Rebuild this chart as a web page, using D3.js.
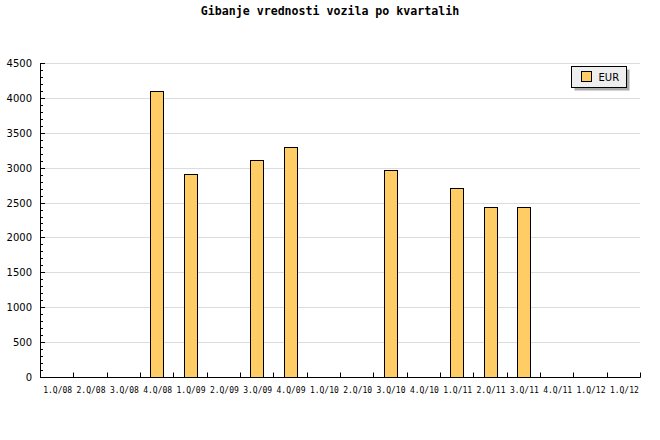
<!DOCTYPE html>
<html>
<head>
<meta charset="utf-8">
<script src="https://cdn.jsdelivr.net/npm/d3@7"></script>
<style>
  body { margin: 0; background: #fff; }
  svg { display: block; }
</style>
</head>
<body>
<div id="chart"></div>
<script>
// Quarters shown on the x axis (last label repeats in the original)
const quarters = ['1.Q/08', '2.Q/08', '3.Q/08', '4.Q/08', '1.Q/09', '2.Q/09', '3.Q/09', '4.Q/09',
  '1.Q/10', '2.Q/10', '3.Q/10', '4.Q/10', '1.Q/11', '2.Q/11', '3.Q/11', '4.Q/11', '1.Q/12', '1.Q/12'];
// EUR value per quarter, null where there is no bar
const eurValues = [null, null, null, 4100, 2910, null, 3110, 3300,
  null, null, 2970, null, 2710, 2440, 2440, null, null, null];
const yTicks = [0, 500, 1000, 1500, 2000, 2500, 3000, 3500, 4000, 4500];
const seriesName = 'EUR';

const width = 660, height = 440;
const margin = { top: 63, right: 20, bottom: 63, left: 40 };

const svg = d3.select('#chart')
  .append('svg')
  .attr('width', width)
  .attr('height', height);

const x = d3.scaleBand()
  .domain(d3.range(quarters.length))
  .range([margin.left, width - margin.right])
  .padding(0);

const y = d3.scaleLinear()
  .domain([0, 4500])
  .range([height - margin.bottom, margin.top]);

// Title
svg.append('text')
  .attr('x', width / 2)
  .attr('y', 15)
  .attr('text-anchor', 'middle')
  .style('font-family', '"DejaVu Sans Mono", monospace')
  .style('font-weight', 'bold')
  .style('font-size', '11.6px')
  .text('Gibanje vrednosti vozila po kvartalih');

// Horizontal grid lines
svg.append('g')
  .selectAll('line')
  .data(yTicks.filter(d => d > 0))
  .enter()
  .append('line')
  .attr('x1', margin.left)
  .attr('x2', width - margin.right)
  .attr('y1', d => Math.round(y(d)) + 0.5)
  .attr('y2', d => Math.round(y(d)) + 0.5)
  .attr('stroke', '#dcdcdc');

// Bars
const barW = x.bandwidth() * 0.38;
svg.append('g')
  .selectAll('rect')
  .data(eurValues.map((v, i) => ({ i, v })).filter(d => d.v != null))
  .enter()
  .append('rect')
  .attr('x', d => Math.round(x(d.i) + (x.bandwidth() - barW) / 2) + 0.5)
  .attr('y', d => Math.round(y(d.v)) + 0.5)
  .attr('width', Math.round(barW))
  .attr('height', d => Math.round(y(0)) - Math.round(y(d.v)))
  .attr('fill', '#ffcc66')
  .attr('stroke', '#000')
  .attr('stroke-width', 1);

// Y axis: major and minor ticks pointing into the plot
const yAxis = svg.append('g');
yAxis.selectAll('line.minor')
  .data(d3.range(0, 4501, 100))
  .enter()
  .append('line')
  .attr('class', 'minor')
  .attr('x1', margin.left)
  .attr('x2', d => margin.left + (d % 500 === 0 ? 5 : 3))
  .attr('y1', d => Math.round(y(d)) + 0.5)
  .attr('y2', d => Math.round(y(d)) + 0.5)
  .attr('stroke', '#000');
yAxis.append('line')
  .attr('x1', margin.left + 0.5)
  .attr('x2', margin.left + 0.5)
  .attr('y1', y(4500))
  .attr('y2', Math.round(y(0)) + 1)
  .attr('stroke', '#000');
yAxis.selectAll('text')
  .data(yTicks)
  .enter()
  .append('text')
  .attr('x', margin.left - 8)
  .attr('y', d => y(d) + 4)
  .attr('text-anchor', 'end')
  .style('font-family', '"DejaVu Sans", sans-serif')
  .style('font-size', '10px')
  .text(d => d);

// X axis: ticks at category boundaries pointing up
const xAxis = svg.append('g');
const y0 = Math.round(y(0)) + 0.5;
xAxis.append('line')
  .attr('x1', margin.left)
  .attr('x2', width - margin.right + 0.5)
  .attr('y1', y0)
  .attr('y2', y0)
  .attr('stroke', '#000');
xAxis.selectAll('line.tick')
  .data(d3.range(1, quarters.length + 1))
  .enter()
  .append('line')
  .attr('class', 'tick')
  .attr('x1', i => Math.round(margin.left + i * x.step()) + 0.5)
  .attr('x2', i => Math.round(margin.left + i * x.step()) + 0.5)
  .attr('y1', y0)
  .attr('y2', y0 - 5)
  .attr('stroke', '#000');
xAxis.selectAll('text')
  .data(quarters)
  .enter()
  .append('text')
  .attr('x', (d, i) => x(i) + x.bandwidth() / 2 + 1)
  .attr('y', 393)
  .attr('text-anchor', 'middle')
  .style('font-family', '"DejaVu Sans Mono", monospace')
  .style('font-size', '8px')
  .text(d => d);

// Legend with drop shadow
const legend = svg.append('g').attr('transform', 'translate(571.5,66.5)');
legend.append('rect')
  .attr('x', 3).attr('y', 3)
  .attr('width', 55).attr('height', 21)
  .attr('fill', '#aaaaaa');
legend.append('rect')
  .attr('width', 55).attr('height', 21)
  .attr('fill', '#eeeeee')
  .attr('stroke', '#000');
legend.append('rect')
  .attr('x', 10).attr('y', 5)
  .attr('width', 10).attr('height', 10)
  .attr('fill', '#ffcc66')
  .attr('stroke', '#000');
legend.append('text')
  .attr('x', 27).attr('y', 14.5)
  .style('font-family', '"DejaVu Sans", sans-serif')
  .style('font-size', '10px')
  .text(seriesName);
</script>
</body>
</html>
